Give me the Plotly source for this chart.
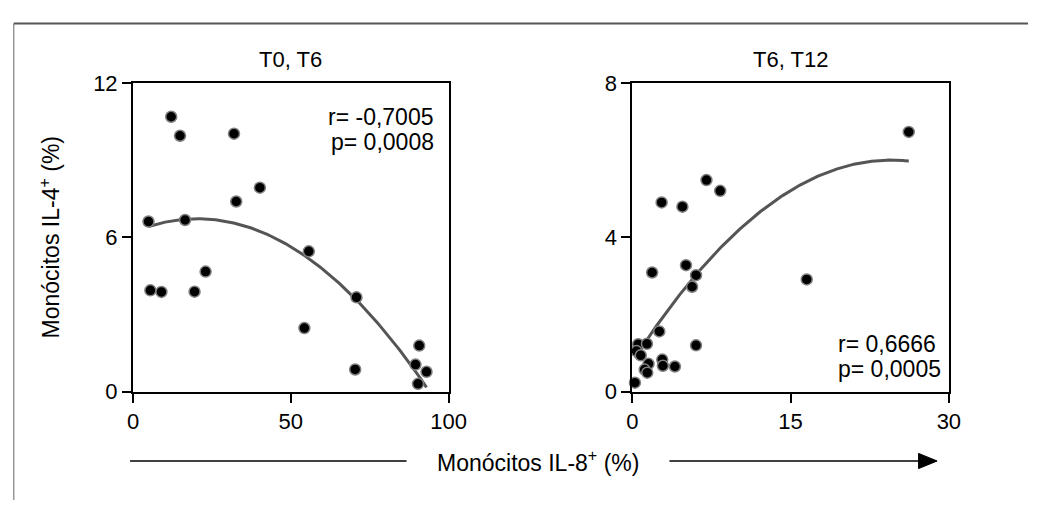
import numpy as np
import plotly.graph_objects as go

# ---- data ----
t0t6_il8 = [4.9, 5.5, 9.0, 12.1, 14.9, 16.5, 19.5, 23.0, 32.0, 32.7, 40.2,
            55.7, 54.3, 70.8, 70.4, 89.5, 90.7, 90.3, 93.0]
t0t6_il4 = [6.62, 3.94, 3.88, 10.7, 9.96, 6.68, 3.89, 4.67, 10.04, 7.40, 7.94,
            5.46, 2.47, 3.67, 0.86, 1.05, 1.79, 0.30, 0.77]

t6t12_il8 = [26.2, 7.03, 8.33, 2.78, 4.75, 5.09, 1.88, 6.04, 5.67, 16.53, 2.56,
             6.04, 0.56, 1.39, 0.40, 0.80, 1.54, 2.84, 2.90, 4.04, 1.17, 1.42, 0.25]
t6t12_il4 = [6.74, 5.49, 5.21, 4.91, 4.80, 3.28, 3.09, 3.02, 2.72, 2.91, 1.56,
             1.20, 1.23, 1.24, 1.05, 0.94, 0.72, 0.83, 0.67, 0.65, 0.57, 0.49, 0.23]

panel_titles = ["T0, T6", "T6, T12"]
stats_left = ["r= -0,7005", "p= 0,0008"]
stats_right = ["r= 0,6666", "p= 0,0005"]
x_ticks_left = [0, 50, 100]
y_ticks_left = [0, 6, 12]
x_ticks_right = [0, 15, 30]
y_ticks_right = [0, 4, 8]
y_title = "Monócitos IL-4<sup>+</sup> (%)"
x_title = "Monócitos IL-8<sup>+</sup> (%)"

W, H = 1046, 513
FONT = "Arial, Liberation Sans, sans-serif"
FS_TICK = 22
FS_TXT = 23


def px(x):
    return x / W


def py(y):
    return 1 - y / H


def fit_curve(xs, ys):
    c = np.polyfit(xs, ys, 2)
    xx = np.linspace(min(xs), max(xs), 200)
    return xx, np.polyval(c, xx)


fig = go.Figure()

marker = dict(size=11, color="black", line=dict(color="#808080", width=1.5))

xl, yl = fit_curve(t0t6_il8, t0t6_il4)
fig.add_trace(go.Scatter(x=xl, y=yl, mode="lines", line=dict(color="#555555", width=3),
                         xaxis="x", yaxis="y", showlegend=False, cliponaxis=False))
fig.add_trace(go.Scatter(x=t0t6_il8, y=t0t6_il4, mode="markers", marker=marker,
                         xaxis="x", yaxis="y", showlegend=False, cliponaxis=False))

xr, yr = fit_curve(t6t12_il8, t6t12_il4)
fig.add_trace(go.Scatter(x=xr, y=yr, mode="lines", line=dict(color="#555555", width=3),
                         xaxis="x2", yaxis="y2", showlegend=False, cliponaxis=False))
fig.add_trace(go.Scatter(x=t6t12_il8, y=t6t12_il4, mode="markers", marker=marker,
                         xaxis="x2", yaxis="y2", showlegend=False, cliponaxis=False))

axis_common = dict(showgrid=False, zeroline=False, showline=True, linecolor="black",
                   linewidth=2, mirror=True, ticks="outside", ticklen=9, tickwidth=2,
                   tickcolor="black", tickfont=dict(family=FONT, size=FS_TICK, color="black"))

fig.update_layout(
    width=W, height=H,
    margin=dict(l=0, r=0, t=0, b=0),
    paper_bgcolor="white", plot_bgcolor="white",
    xaxis=dict(domain=[px(130), px(453)], range=[0, 100], tickvals=x_ticks_left,
               anchor="y", **axis_common),
    yaxis=dict(domain=[py(399), py(75)], range=[0, 12], tickvals=y_ticks_left,
               anchor="x", **axis_common),
    xaxis2=dict(domain=[px(641), px(965)], range=[0, 30], tickvals=x_ticks_right,
                anchor="y2", **axis_common),
    yaxis2=dict(domain=[py(399), py(75)], range=[0, 8], tickvals=y_ticks_right,
                anchor="x2", **axis_common),
    font=dict(family=FONT, size=FS_TXT, color="black"),
)


def txt(x, y, text, xanchor="center", angle=0, size=FS_TXT):
    return dict(x=px(x), y=py(y), xref="paper", yref="paper", text=text,
                showarrow=False, xanchor=xanchor, yanchor="middle", textangle=angle,
                font=dict(family=FONT, size=size, color="black"))


ann = [
    txt(291, 50, panel_titles[0], size=FS_TICK),
    txt(803, 50, panel_titles[1], size=FS_TICK),
    txt(440, 110, stats_left[0], xanchor="right"),
    txt(440, 137, stats_left[1], xanchor="right"),
    txt(850, 349, stats_right[0], xanchor="left"),
    txt(850, 375, stats_right[1], xanchor="left"),
    txt(45, 237, y_title, angle=-90),
    txt(545, 472, x_title),
]
fig.update_layout(annotations=ann)

shapes = []
# outer frame
shapes.append(dict(type="line", xref="paper", yref="paper", x0=px(8), x1=1, y0=py(12), y1=py(12),
                   line=dict(color="#555555", width=2)))
shapes.append(dict(type="line", xref="paper", yref="paper", x0=px(8), x1=px(8), y0=py(12), y1=0,
                   line=dict(color="#666666", width=1)))
# x-title arrow lines
shapes.append(dict(type="line", xref="paper", yref="paper", x0=px(127), x1=px(410), y0=py(472), y1=py(472),
                   line=dict(color="black", width=1.5)))
shapes.append(dict(type="line", xref="paper", yref="paper", x0=px(679), x1=px(940), y0=py(472), y1=py(472),
                   line=dict(color="black", width=1.5)))
shapes.append(dict(type="path", xref="paper", yref="paper",
                   path=f"M {px(934)} {py(464)} L {px(953)} {py(472)} L {px(934)} {py(480)} Z",
                   fillcolor="black", line=dict(color="black", width=1)))
fig.update_layout(shapes=shapes)

fig.write_html("out.html")
